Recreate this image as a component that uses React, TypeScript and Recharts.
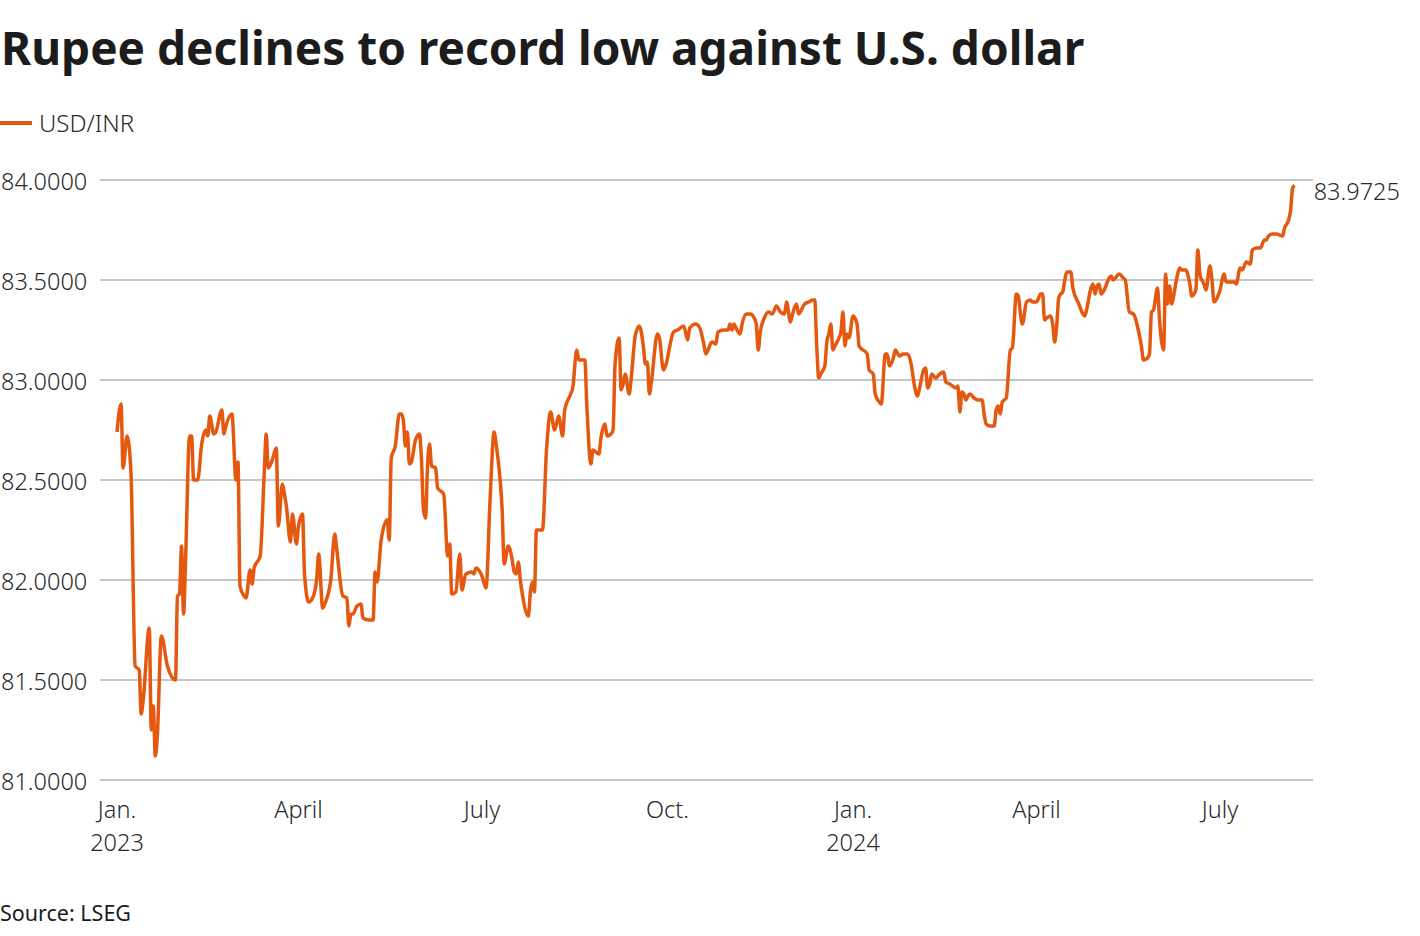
import React from "react";
import { LineChart, Line, XAxis, YAxis, CartesianGrid, LabelList } from "recharts";

// days since 1 Jan 2023
const dayIndex = [
  0, 2, 3, 5, 6, 7, 9, 11, 12, 13, 16, 17, 18, 19, 20, 22, 25, 29, 30, 31, 32, 33, 34, 36, 37, 38, 40, 42, 44, 45, 46, 48, 49, 52, 53, 54, 57, 59, 60, 61, 63, 64, 66, 67, 68, 71,
  73, 74, 75, 77, 79, 80, 82, 83, 84, 86, 87, 89, 90, 92, 93, 95, 97, 99, 100, 102, 103, 106, 108, 109, 112, 114, 115, 116, 117, 119, 121, 122, 125, 127, 128, 129, 131, 134, 135, 136, 138, 140,
  141, 142, 143, 144, 145, 146, 148, 150, 151, 152, 153, 154, 155, 156, 158, 159, 162, 164, 165, 166, 168, 170, 171, 173, 176, 177, 178, 181, 183, 185, 187, 188, 190, 191, 192, 194, 196, 197, 198, 199, 200, 201, 204, 205, 206, 207, 208, 211, 213, 215, 217, 219,
  221, 222, 225, 226, 228, 229, 232, 233, 235, 236, 239, 240, 242, 243, 245, 246, 247, 249, 250, 251, 252, 254, 255, 257, 259, 261, 262, 263, 264, 265, 268, 269, 271, 272, 276, 278, 281, 283, 284, 287, 289,
  291, 292, 295, 297, 298, 301, 303, 304, 305, 306, 307, 309, 310, 312, 314, 316, 317, 318, 319, 321, 323, 325, 327, 329, 331, 332, 334, 335, 337, 338, 341, 343, 345, 346, 347, 348, 349, 351, 352, 353, 354, 355, 356, 358, 359, 360, 361, 362, 363, 365, 367, 368,
  372, 373, 375, 376, 378, 379, 381, 382, 383, 385, 386, 388, 390, 392, 394, 395, 397, 398, 400, 401, 402, 403, 404, 406, 408, 410, 411, 413, 416, 417, 418, 419, 420, 421, 422, 423, 425, 427, 429, 430, 431, 433, 435, 436, 437, 438, 439, 441, 443, 444, 446,
  447, 448, 449, 451, 453, 454, 456, 458, 459, 460, 461, 463, 464, 465, 466, 467, 468, 469, 470, 471, 473, 474, 477, 479, 480, 481, 483, 484, 485, 486, 487, 488, 490, 492, 493, 494, 495, 497, 499, 500, 502, 504, 505, 506, 508, 509, 511, 512, 513, 514, 516, 517, 519, 520, 521, 522, 523, 524,
  525, 526, 527, 528, 530, 532, 533, 535, 536, 537, 538, 539, 540, 542, 543, 544, 545, 547, 549, 550, 552, 554, 555, 557, 558, 560, 562, 563, 565, 567, 569, 570, 571, 573, 575, 578, 579, 581, 582, 583, 584,
];

const usdInr = [
  82.74, 82.88, 82.56, 82.72, 82.67, 82.52, 81.57, 81.55, 81.33, 81.4, 81.76, 81.25, 81.37, 81.12, 81.22, 81.72, 81.57, 81.5, 81.92, 81.93, 82.17, 81.83, 82.1, 82.72, 82.72, 82.5, 82.5, 82.68, 82.75, 82.72, 82.82, 82.73, 82.74, 82.85, 82.73, 82.77, 82.83, 82.5, 82.59, 81.97, 81.92, 81.91, 82.05, 81.98, 82.06, 82.12,
  82.53, 82.73, 82.56, 82.6, 82.66, 82.27, 82.48, 82.43, 82.37, 82.19, 82.33, 82.18, 82.27, 82.33, 82.03, 81.89, 81.91, 82.0, 82.13, 81.86, 81.88, 82.0, 82.23, 82.15, 81.92, 81.91, 81.77, 81.83, 81.83, 81.87, 81.88, 81.81, 81.8, 81.8, 82.04, 81.99, 82.2, 82.3, 82.2, 82.61, 82.67, 82.83,
  82.83, 82.8, 82.67, 82.74, 82.58, 82.59, 82.7, 82.73, 82.6, 82.35, 82.31, 82.57, 82.68, 82.57, 82.56, 82.46, 82.43, 82.12, 82.18, 81.93, 81.94, 82.13, 81.95, 82.03, 82.04, 82.03, 82.06, 82.02, 81.96, 82.4, 82.74, 82.68, 82.5, 82.35, 82.08, 82.17, 82.1, 82.04, 82.03, 82.09, 82.0, 81.93, 81.82, 81.94, 81.99, 81.94, 82.25, 82.25, 82.65, 82.84, 82.75, 82.82,
  82.72, 82.85, 82.93, 82.96, 83.15, 83.1, 83.1, 82.87, 82.58, 82.65, 82.63, 82.71, 82.78, 82.72, 82.73, 82.75, 83.08, 83.21, 82.95, 82.98, 83.03, 82.93, 83.01, 83.22, 83.27, 83.17, 83.08, 83.09, 82.93, 82.99, 83.23, 83.21, 83.05, 83.07, 83.24, 83.25, 83.27, 83.2, 83.26, 83.28, 83.26,
  83.18, 83.13, 83.19, 83.18, 83.24, 83.25, 83.25, 83.28, 83.25, 83.28, 83.26, 83.23, 83.28, 83.33, 83.33, 83.31, 83.28, 83.15, 83.24, 83.31, 83.34, 83.33, 83.37, 83.34, 83.33, 83.39, 83.29, 83.33, 83.38, 83.33, 83.38, 83.39, 83.4, 83.4, 83.17, 83.01, 83.03, 83.07, 83.19, 83.23, 83.28, 83.15, 83.17, 83.21, 83.24, 83.34, 83.17, 83.23, 83.21, 83.32, 83.28, 83.17,
  83.13, 83.05, 83.03, 82.93, 82.89, 82.88, 83.13, 83.13, 83.07, 83.11, 83.15, 83.12, 83.13, 83.13, 83.07, 83.0, 82.92, 82.96, 83.05, 83.06, 82.96, 82.98, 83.03, 83.01, 83.03, 83.04, 82.99, 82.98, 82.96, 82.97, 82.84, 82.94, 82.93, 82.9, 82.92, 82.93, 82.91, 82.9, 82.9, 82.83, 82.78, 82.77, 82.77, 82.85, 82.87, 82.83, 82.89, 82.91, 83.15, 83.16, 83.43,
  83.42, 83.33, 83.28, 83.39, 83.4, 83.39, 83.39, 83.43, 83.43, 83.3, 83.31, 83.32, 83.28, 83.19, 83.27, 83.41, 83.43, 83.44, 83.5, 83.54, 83.54, 83.46, 83.38, 83.33, 83.32, 83.36, 83.46, 83.48, 83.43, 83.47, 83.48, 83.43, 83.46, 83.51, 83.52, 83.5, 83.51, 83.53, 83.51, 83.5, 83.34, 83.33, 83.31, 83.27, 83.17, 83.1, 83.11, 83.13, 83.34, 83.35, 83.46, 83.3, 83.15, 83.53, 83.38, 83.47, 83.38, 83.42,
  83.48, 83.53, 83.56, 83.55, 83.55, 83.48, 83.42, 83.45, 83.65, 83.53, 83.5, 83.48, 83.45, 83.57, 83.5, 83.39, 83.4, 83.45, 83.53, 83.49, 83.49, 83.49, 83.48, 83.56, 83.55, 83.59, 83.58, 83.65, 83.66, 83.66, 83.7, 83.7, 83.72, 83.73, 83.73, 83.72, 83.76, 83.8, 83.85, 83.96, 83.9725,
];

const xTickDays = [0, 90, 181, 273, 365, 456, 547];
const xTickMonths = ["Jan.", "April", "July", "Oct.", "Jan.", "April", "July"];
const xTickYears = ["2023", "", "", "", "2024", "", ""];
const yTicks = [81, 81.5, 82, 82.5, 83, 83.5, 84];

const TITLE = "Rupee declines to record low against U.S. dollar";
const SERIES = "USD/INR";
const SOURCE = "Source: LSEG";
const ORANGE = "#e5580f";
const FONT = "'Noto Sans', sans-serif";

const data = dayIndex.map((d, i) => ({ day: d, value: usdInr[i] }));

const YTick = (props: any) => {
  const { y, payload } = props;
  return (
    <text x={1} y={y + 10} textAnchor="start" fontFamily={FONT} fontWeight={300} fontSize={23.5} fill="#2a2a2a">
      {Number(payload.value).toFixed(4)}
    </text>
  );
};

const XTick = (props: any) => {
  const { x, y, payload } = props;
  const i = xTickDays.indexOf(payload.value);
  return (
    <g>
      <text x={x} y={y + 30} textAnchor="middle" fontFamily={FONT} fontWeight={300} fontSize={23.5} fill="#2a2a2a">
        {xTickMonths[i]}
      </text>
      {xTickYears[i] ? (
        <text x={x} y={y + 63} textAnchor="middle" fontFamily={FONT} fontWeight={300} fontSize={23.5} fill="#2a2a2a">
          {xTickYears[i]}
        </text>
      ) : null}
    </g>
  );
};

const lastIndex = usdInr.length - 1;
const EndLabel = (props: any) => {
  const { x, y, index, value } = props;
  if (index !== lastIndex) return null;
  return (
    <text x={x + 19} y={y + 14} textAnchor="start" fontFamily={FONT} fontWeight={300} fontSize={23.5} fill="#2a2a2a">
      {Number(value).toFixed(4)}
    </text>
  );
};

export default function App() {
  return (
    <div style={{ position: "absolute", left: 0, top: 0, width: 1420, height: 936, background: "#fff" }}>
      <LineChart
        width={1420}
        height={936}
        data={data}
        margin={{ top: 180, right: 107, bottom: 96, left: 0 }}
      >
        <CartesianGrid vertical={false} stroke="#c6c6c6" strokeWidth={2} />
        <XAxis
          dataKey="day"
          type="number"
          domain={[-8.43, 593.1]}
          ticks={xTickDays}
          tick={<XTick />}
          axisLine={false}
          tickLine={false}
          height={60}
          allowDataOverflow
        />
        <YAxis
          domain={[81, 84]}
          ticks={yTicks}
          tick={<YTick />}
          axisLine={false}
          tickLine={false}
          width={100}
          allowDataOverflow
        />
        <Line
          type="monotone"
          dataKey="value"
          stroke={ORANGE}
          strokeWidth={3.5}
          dot={false}
          isAnimationActive={false}
        >
          <LabelList dataKey="value" content={<EndLabel />} />
        </Line>
      </LineChart>
      <svg width={1420} height={936} style={{ position: "absolute", left: 0, top: 0, pointerEvents: "none" }}>
        <text x={1} y={65} fontFamily={FONT} fontWeight={700} fontSize={46} fill="#1c1c1c">
          {TITLE}
        </text>
        <line x1={0} y1={123} x2={32} y2={123} stroke={ORANGE} strokeWidth={4} />
        <text x={39} y={132} fontFamily={FONT} fontWeight={300} fontSize={24} fill="#2a2a2a">
          {SERIES}
        </text>
        <text x={0} y={921} fontFamily={FONT} fontWeight={400} fontSize={21.5} fill="#1c1c1c">
          {SOURCE}
        </text>
      </svg>
    </div>
  );
}
